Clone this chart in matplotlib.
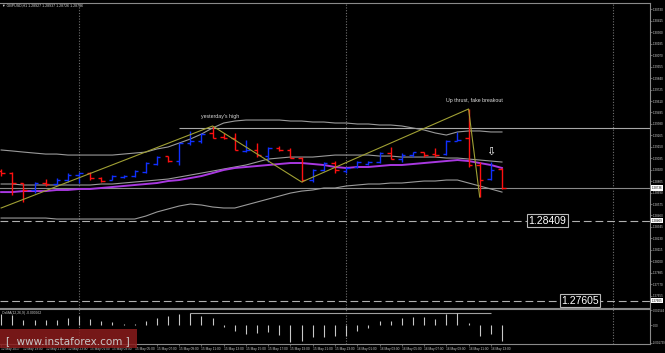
import matplotlib
matplotlib.use("Agg")
import matplotlib.pyplot as plt
from matplotlib.patches import Rectangle
import matplotlib.transforms as mtrans

# ---------------- data ----------------
symbol = "GBPUSD,H1"
opens = [1.28906, 1.28886, 1.28786, 1.28716, 1.28786, 1.28776, 1.28816, 1.28866, 1.28886, 1.28836,
         1.28816, 1.28846, 1.28856, 1.28896, 1.28977, 1.29057, 1.29007, 1.29188, 1.29208, 1.29289,
         1.29248, 1.29238, 1.29108, 1.29118, 1.29057, 1.29138, 1.29118, 1.29037, 1.28816, 1.28917,
         1.28987, 1.28906, 1.28947, 1.28977, 1.28997, 1.29087, 1.29027, 1.29067, 1.29097, 1.29077,
         1.29077, 1.29208, 1.29238, 1.28967, 1.28826, 1.28927]
highs = [1.28927, 1.28896, 1.28786, 1.28796, 1.28826, 1.28836, 1.28886, 1.28896, 1.28896, 1.28846,
         1.28866, 1.28866, 1.28917, 1.28997, 1.29057, 1.29057, 1.29188, 1.29309, 1.29289, 1.29359,
         1.29289, 1.29289, 1.29218, 1.29188, 1.29148, 1.29158, 1.29138, 1.29047, 1.28927, 1.28997,
         1.29007, 1.28947, 1.29007, 1.29007, 1.29097, 1.29148, 1.29087, 1.29097, 1.29097, 1.29138,
         1.29218, 1.29299, 1.29530, 1.28997, 1.28997, 1.28937]
lows = [1.28856, 1.28665, 1.28595, 1.28685, 1.28756, 1.28766, 1.28796, 1.28786, 1.28816, 1.28796,
        1.28816, 1.28836, 1.28846, 1.28886, 1.28967, 1.28997, 1.28967, 1.29168, 1.29188, 1.29238,
        1.29228, 1.29118, 1.29097, 1.29047, 1.28997, 1.29108, 1.29037, 1.28796, 1.28796, 1.28906,
        1.28886, 1.28886, 1.28937, 1.28967, 1.28987, 1.29027, 1.28997, 1.29047, 1.29047, 1.29047,
        1.29067, 1.29208, 1.28947, 1.28645, 1.28816, 1.28726]
closes = [1.28886, 1.28786, 1.28716, 1.28786, 1.28776, 1.28816, 1.28866, 1.28886, 1.28836, 1.28806,
          1.28856, 1.28856, 1.28906, 1.28987, 1.29047, 1.29007, 1.29188, 1.29208, 1.29278, 1.29238,
          1.29238, 1.29118, 1.29118, 1.29067, 1.29138, 1.29118, 1.29037, 1.28816, 1.28917, 1.28987,
          1.28917, 1.28937, 1.28997, 1.28997, 1.29087, 1.29027, 1.29067, 1.29097, 1.29067, 1.29067,
          1.29208, 1.29218, 1.28967, 1.28816, 1.28917, 1.28736]

bb_upper = [1.29118, 1.29108, 1.29097, 1.29087, 1.29077, 1.29077, 1.29067, 1.29067, 1.29067, 1.29067,
            1.29067, 1.29077, 1.29087, 1.29097, 1.29128, 1.29148, 1.29188, 1.29228, 1.29278, 1.29339,
            1.29389, 1.29409, 1.29419, 1.29419, 1.29419, 1.29419, 1.29409, 1.29409, 1.29399, 1.29399,
            1.29389, 1.29389, 1.29379, 1.29379, 1.29369, 1.29369, 1.29359, 1.29339, 1.29319, 1.29289,
            1.29268, 1.29299, 1.29309, 1.29309, 1.29299, 1.29299]
bb_mid = [1.28776, 1.28776, 1.28766, 1.28766, 1.28766, 1.28766, 1.28766, 1.28766, 1.28766, 1.28776,
          1.28776, 1.28786, 1.28796, 1.28806, 1.28816, 1.28826, 1.28846, 1.28866, 1.28886, 1.28906,
          1.28927, 1.28947, 1.28967, 1.28997, 1.29027, 1.29037, 1.29047, 1.29047, 1.29047, 1.29057,
          1.29067, 1.29067, 1.29067, 1.29067, 1.29057, 1.29057, 1.29047, 1.29047, 1.29047, 1.29047,
          1.29037, 1.29037, 1.29027, 1.29017, 1.29007, 1.28997]
bb_lower = [1.28434, 1.28434, 1.28434, 1.28434, 1.28434, 1.28424, 1.28424, 1.28424, 1.28424, 1.28424,
            1.28424, 1.28424, 1.28424, 1.28454, 1.28495, 1.28525, 1.28555, 1.28575, 1.28565, 1.28545,
            1.28535, 1.28535, 1.28565, 1.28595, 1.28625, 1.28655, 1.28685, 1.28705, 1.28716, 1.28736,
            1.28736, 1.28756, 1.28766, 1.28776, 1.28776, 1.28786, 1.28786, 1.28796, 1.28806, 1.28806,
            1.28816, 1.28816, 1.28786, 1.28756, 1.28726, 1.28695]
ma_purple = [1.28695, 1.28695, 1.28705, 1.28705, 1.28705, 1.28716, 1.28716, 1.28726, 1.28726, 1.28736,
             1.28746, 1.28756, 1.28766, 1.28776, 1.28786, 1.28806, 1.28816, 1.28836, 1.28856, 1.28886,
             1.28917, 1.28937, 1.28947, 1.28957, 1.28967, 1.28977, 1.28987, 1.28987, 1.28977, 1.28967,
             1.28947, 1.28937, 1.28947, 1.28947, 1.28957, 1.28967, 1.28967, 1.28977, 1.28987, 1.28997,
             1.29007, 1.29017, 1.29007, 1.28987, 1.28967, 1.28937]

zz_idx = [0, 19, 27, 42, 43]
zz_price = [1.28535, 1.29359, 1.28796, 1.29530, 1.28645]

osma = [0.0011, 0.0010, 0.0005, 0.0005, 0.0005, 0.0005, 0.0007, 0.0009, 0.0006, 0.0004,
        0.0003, 0.00015, 0.00015, 0.0004, 0.0007, 0.0009, 0.0011, 0.0012, 0.0009, 0.0007,
        -0.0002, -0.0006, -0.0009, -0.0008, -0.0007, -0.0010, -0.0017, -0.0016, -0.0012, -0.0012,
        -0.0011, -0.0011, -0.0006, -0.0003, 0.0004, 0.0004, 0.0007, 0.0008, 0.0008, 0.0006,
        0.0011, 0.0012, 0.0002, -0.0011, -0.0009, -0.0016]
osma_label = "OsMA(12,26,9) -0.000962"
osma_res_level = 0.0012
osma_res_span = [17, 44]
osma_ticks = [0.00150, 0.0, -0.00175]
osma_tick_labels = ["0.001544", "0.00", "-0.001739"]

day_sep_idx = [7, 31, 55]
x_label_idx = list(range(0, 45, 2))
x_labels = ["12 May 2017", "12 May 19:00", "12 May 21:00", "12 May 23:00", "15 May 01:00",
            "15 May 03:00", "15 May 05:00", "15 May 07:00", "15 May 09:00", "15 May 11:00",
            "15 May 13:00", "15 May 15:00", "15 May 17:00", "15 May 19:00", "15 May 21:00",
            "15 May 23:00", "16 May 01:00", "16 May 03:00", "16 May 05:00", "16 May 07:00",
            "16 May 09:00", "16 May 11:00", "16 May 13:00"]

price_ticks = [1.30530, 1.30415, 1.30300, 1.30185, 1.30070, 1.29955, 1.29840, 1.29725, 1.29610,
               1.29495, 1.29380, 1.29265, 1.29150, 1.29035, 1.28920, 1.28805, 1.28690, 1.28575,
               1.28460, 1.28345, 1.28230, 1.28115, 1.28000, 1.27885, 1.27770, 1.27655]

yesterday_high = 1.29339
yesterday_high_start = 16
support_levels = [1.28409, 1.27605]
support_label_x = [49.05, 52.0]
note_high = "yesterday's high"
note_upthrust = "Up thrust, fake breakout"

# ---------------- figure ----------------
SMALL = "Liberation Sans"
W, H = 665, 353
fig = plt.figure(figsize=(W / 100, H / 100), dpi=100, facecolor="black")


def px_axes(x0, y0, x1, y1):
    return fig.add_axes([x0 / W, 1 - y1 / H, (x1 - x0) / W, (y1 - y0) / H])


ax = px_axes(0, 3, 650, 308)
ax2 = px_axes(0, 309, 650, 344)
XMIN, XMAX = -0.1, 58.3
for a in (ax, ax2):
    a.set_facecolor("black")
    a.set_xlim(XMIN, XMAX)
    for s in ("top", "right", "bottom"):
        a.spines[s].set_color("#8a8a8a")
        a.spines[s].set_linewidth(0.8)
    a.spines["left"].set_visible(False)

ax.set_ylim(1.27530, 1.30595)
ax2.set_ylim(-0.00185, 0.00160)

gray = "#9a9a9a"
# day separators
for a in (ax, ax2):
    for d in day_sep_idx:
        a.axvline(d, color="#707070", lw=0.8, linestyle=(0, (1, 1.5)), zorder=1)

idx = list(range(len(opens)))
# bands / MAs
ax.plot(idx, bb_upper, color=gray, lw=0.8, zorder=2)
ax.plot(idx, bb_mid, color=gray, lw=0.8, zorder=2)
ax.plot(idx, bb_lower, color=gray, lw=0.8, zorder=2)
ax.plot(idx, ma_purple, color="#a838e0", lw=1.4, zorder=2)

# horizontal lines
ax.axhline(closes[-1], color="#8a8a8a", lw=0.8, zorder=1.5)
ax.hlines(yesterday_high, yesterday_high_start, XMAX, color="#a8a8a8", lw=0.8, zorder=1.5)
for lv in support_levels:
    ax.axhline(lv, color="#b0b0b0", lw=0.8, linestyle=(0, (7, 3.5)), zorder=1.5)

# bars
for i in idx:
    c = "#1030ff" if closes[i] >= opens[i] else "#ff1010"
    ax.vlines(i, lows[i], highs[i], color=c, lw=1.0, zorder=3)
    ax.hlines(opens[i], i - 0.32, i, color=c, lw=1.0, zorder=3)
    ax.hlines(closes[i], i, i + 0.32, color=c, lw=1.0, zorder=3)

# zigzag
ax.plot(zz_idx, zz_price, color="#a0a034", lw=0.8, zorder=4)

# annotations
ax.text(19.7, 1.29459, note_high, color="#d8d8d8", fontsize=3.8,
        family=SMALL, ha="center", va="center", zorder=5)
ax.text(42.5, 1.29620, note_upthrust, color="#e0e0e0", fontsize=3.8,
        family=SMALL, ha="center", va="center", zorder=5)
ax.text(44.0, 1.29097, "\u21e9", color="white", fontsize=8, family="DejaVu Sans",
        ha="center", va="center", zorder=5)
for lv, lx in zip(support_levels, support_label_x):
    ax.text(lx, lv, f"{lv:.5f}", color="white", fontsize=7.5, family=SMALL,
            ha="center", va="center", zorder=6,
            bbox=dict(boxstyle="square,pad=0.15", facecolor="black", edgecolor="#b8b8b8", lw=0.8))

ax.text(0.003, 0.997, "\u25bc " + symbol + " " + " ".join(f"{v:.5f}" for v in
        (opens[-1], highs[-1], lows[-1], closes[-1])),
        transform=ax.transAxes, color="#d8d8d8", fontsize=2.6, family=["Liberation Sans", "DejaVu Sans"],
        ha="left", va="top")

# right price axis
ax.yaxis.tick_right()
ax.set_yticks(price_ticks)
ax.set_yticklabels([f"{v:.5f}" for v in price_ticks], family=SMALL)
ax.tick_params(axis="y", colors="#8a8a8a", labelcolor="#d0d0d0", labelsize=2.2,
               length=1.2, width=0.5, pad=0.8)
ax.set_xticks([])
tr = mtrans.blended_transform_factory(ax.transAxes, ax.transData)
for lv in [closes[-1]] + support_levels:
    ax.text(1.002, lv, f"{lv:.5f}", transform=tr, color="black", fontsize=2.2, family=SMALL,
            ha="left", va="center", clip_on=False, zorder=10,
            bbox=dict(boxstyle="square,pad=0.25", facecolor="white", edgecolor="none"))

# OsMA panel
ax2.vlines(idx, 0, osma, color="#c8c8c8", lw=0.8, zorder=3)
ax2.hlines(osma_res_level, osma_res_span[0], osma_res_span[1], color="#a0a0a0", lw=0.8, zorder=2)
ax2.text(0.003, 0.93, osma_label, transform=ax2.transAxes, color="#d0d0d0", fontsize=2.4,
         family=SMALL, ha="left", va="top")
ax2.yaxis.tick_right()
ax2.set_yticks(osma_ticks)
ax2.set_yticklabels(osma_tick_labels, family=SMALL)
ax2.tick_params(axis="y", colors="#8a8a8a", labelcolor="#d0d0d0", labelsize=2.0,
                length=1.2, width=0.5, pad=0.8)
ax2.set_xticks(x_label_idx)
ax2.set_xticklabels(x_labels, family=SMALL)
ax2.tick_params(axis="x", colors="#8a8a8a", labelcolor="#c8c8c8", labelsize=2.3,
                length=1.5, width=0.5, pad=0.8)
for lab in ax2.get_xticklabels():
    lab.set_ha("left")

# watermark
fig.add_artist(Rectangle((0, 1 - 348 / H), 137 / W, 19 / H, transform=fig.transFigure,
                         facecolor="#8a1c1c", edgecolor="none", alpha=0.85, zorder=20))
fig.text(68 / W, 1 - 341 / H, "[  www.instaforex.com ]", color="#c8c8c8", fontsize=7.5,
         ha="center", va="center", zorder=21)

fig.savefig("out.png", dpi=100, facecolor="black")
